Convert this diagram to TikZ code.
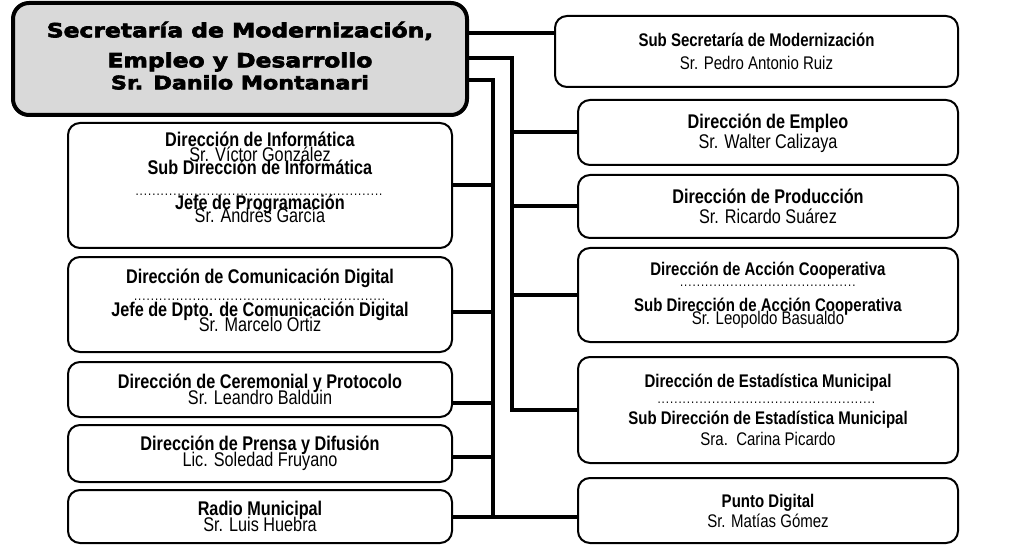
\documentclass[tikz,border=0pt]{standalone}
\usepackage{fontspec}
\setmainfont{Liberation Sans}[FakeStretch=0.82]
\newfontfamily\headfont{DejaVu Sans}[FakeStretch=1.2,FakeBold=3.5]
\usepackage{tikz}
\newcommand\tightlines{\lineskiplimit-50pt\relax}
\newcommand\dotrow[1]{\makebox[#1]{\fontsize{14}{12}\selectfont\leaders\hbox to 4.2pt{\hss.\hss}\hfill}}
\tikzstyle{unit}=[draw, line width=2pt, rounded corners=12pt, align=center, inner sep=0pt, minimum width=380pt, font=\fontsize{19.8}{15}\selectfont\tightlines]
\tikzstyle{unitsm}=[unit, font=\fontsize{18.3}{15}\selectfont\tightlines]
\tikzstyle{head}=[draw, line width=4pt, fill=black!15, rounded corners=16pt, align=center, minimum width=454pt, minimum height=112pt, font=\headfont\bfseries\fontsize{19.5}{22}\selectfont\tightlines]
\tikzstyle{link}=[line width=4pt]

\begin{document}
\begin{tikzpicture}[x=1pt,y=-1pt]
\useasboundingbox (0,0) rectangle (1011,545);
\node [head] (sec) at (240,59) {Secretaría de Modernización,\\[8pt] Empleo y Desarrollo\\ {\fontsize{18.5}{22}\selectfont Sr. Danilo Montanari}\rule[-7pt]{0pt}{0pt}};
\node [unitsm, minimum width=403pt, minimum height=71pt] (sub) at (756.5,51.5) {\textbf{Sub Secretaría de Modernización}\\[8pt] Sr. Pedro Antonio Ruiz};
\node [unit, minimum height=65pt] (emp) at (768,132.5) {\rule{0pt}{17pt}\textbf{Dirección de Empleo}\\[5pt] Sr. Walter Calizaya};
\node [unit, minimum height=63pt] (prod) at (768,206.5) {\textbf{Dirección de Producción}\\[5pt] Sr. Ricardo Suárez};
\node [unitsm, minimum height=94pt] (coop) at (768,295) {\textbf{Dirección de Acción Cooperativa}\\[-4pt] \dotrow{177pt}\\[10pt] \textbf{Sub Dirección de Acción Cooperativa}\\[-2pt] Sr. Leopoldo Basualdo\rule[-3pt]{0pt}{0pt}};
\node [unitsm, minimum height=106pt] (est) at (768,410) {\textbf{Dirección de Estadística Municipal}\\[1pt] \dotrow{222pt}\\[6pt] \textbf{Sub Dirección de Estadística Municipal}\\[6pt] Sra.\ \ Carina Picardo};
\node [unitsm, minimum height=65pt] (pd) at (768,510.5) {\textbf{Punto Digital}\\[5pt] Sr. Matías Gómez};

\node [unit, minimum width=384pt, minimum height=125pt] (inf) at (260,185.5) {\textbf{Dirección de Informática}\\ Sr. Víctor González\\[-2pt] \textbf{Sub Dirección de Informática}\\[6pt] \dotrow{250pt}\\[-1pt] \textbf{Jefe de Programación}\\[-2pt] Sr. Andrés García\rule[-17pt]{0pt}{0pt}};
\node [unit, minimum width=384pt, minimum height=95pt] (com) at (260,304.5) {\textbf{Dirección de Comunicación Digital}\\[2pt] \dotrow{253pt}\\[1pt] \textbf{Jefe de Dpto. de Comunicación Digital}\\ Sr. Marcelo Ortiz\rule[-8pt]{0pt}{0pt}};
\node [unit, minimum width=384pt, minimum height=55pt] (cer) at (260,389.5) {\textbf{Dirección de Ceremonial y Protocolo}\\[1pt] Sr. Leandro Balduin};
\node [unit, minimum width=384pt, minimum height=57pt] (pren) at (260,453.5) {\textbf{Dirección de Prensa y Difusión}\\[1pt] Lic. Soledad Fruyano};
\node [unit, minimum width=384pt, minimum height=53pt] (rad) at (260,516.5) {\textbf{Radio Municipal}\\[1pt] Sr. Luis Huebra};

\coordinate (s) at ([yshift=18.5pt]sub.west);
\coordinate (r) at (512,58);
\coordinate (l) at (493,80);
\draw[link] (sec.east |- s) -- (s);
\draw[link] (sec.east |- r) -- (r) |- (est.west);
\foreach \n in {emp,prod,coop} \draw[link] (r |- \n.west) -- (\n.west);
\draw[link] (sec.east |- l) -- (l) |- (rad.east) -- (pd.west |- rad.east);
\draw[link] (l |- inf.east) -- (inf.east);
\draw[link] (l |- 0,312) -- (com.east |- 0,312);
\draw[link] (l |- 0,403) -- (cer.east |- 0,403);
\draw[link] (l |- 0,457) -- (pren.east |- 0,457);
\end{tikzpicture}
\end{document}
